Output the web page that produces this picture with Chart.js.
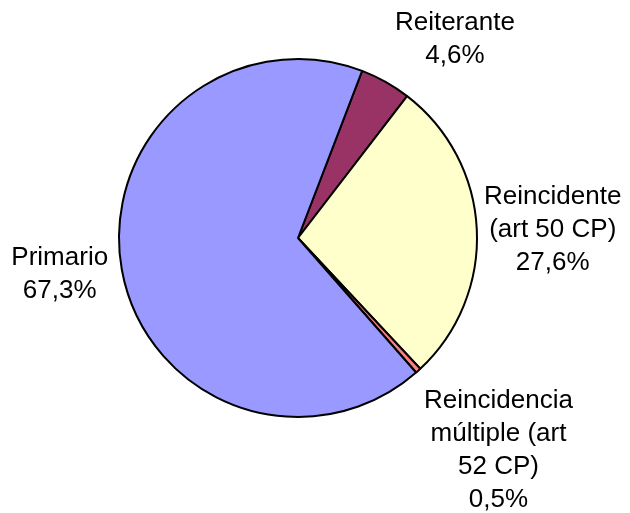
<!DOCTYPE html>
<html>
<head>
<meta charset="utf-8">
<script src="https://cdn.jsdelivr.net/npm/chart.js@4"></script>
<style>
  html, body { margin: 0; padding: 0; background: #fff; }
  #wrap { width: 630px; height: 513px; }
</style>
</head>
<body>
<div id="wrap"><canvas id="pie" width="630" height="513"></canvas></div>
<script>
// ==== Data ====
const categories = [
  ['Reiterante'],
  ['Reincidente', '(art 50 CP)'],
  ['Reincidencia', 'múltiple (art', '52 CP)'],
  ['Primario']
];
const shares = [4.6, 27.6, 0.5, 67.3];
const sliceColors = ['#993366', '#FFFFCC', '#FF8080', '#9999FF'];

// label nudges (px) from a point 60px outside the rim on each slice's mid angle
const labelNudge = [[40, 10], [16, 3], [40, 35], [-3, -6]];

const fmtPct = (v) => v.toFixed(1).replace('.', ',') + '%';

// ==== Outside labels ====
const outsideLabels = {
  id: 'outsideLabels',
  afterDatasetsDraw(chart){
    const ctx = chart.ctx;
    const meta = chart.getDatasetMeta(0);
    ctx.save();
    ctx.fillStyle = '#000';
    ctx.font = '26px "Liberation Sans", Arial, sans-serif';
    ctx.textAlign = 'center';
    ctx.textBaseline = 'middle';
    const lh = 33;
    meta.data.forEach((arc, i) => {
      const {x, y, startAngle, endAngle, outerRadius} = arc.getProps(['x','y','startAngle','endAngle','outerRadius'], true);
      const mid = (startAngle + endAngle) / 2;
      const d = outerRadius + 60;
      const cx = x + Math.cos(mid) * d + labelNudge[i][0];
      const cy = y + Math.sin(mid) * d + labelNudge[i][1];
      const lines = categories[i].concat([fmtPct(shares[i])]);
      const top = cy - (lines.length - 1) * lh / 2;
      lines.forEach((t, k) => ctx.fillText(t, cx, top + k * lh));
    });
    ctx.restore();
  }
};

new Chart(document.getElementById('pie').getContext('2d'), {
  type: 'pie',
  data: {
    labels: categories.map(c => c.join(' ')),
    datasets: [{
      data: shares,
      backgroundColor: sliceColors,
      borderColor: '#000',
      borderWidth: 2,
      borderAlign: 'center'
    }]
  },
  options: {
    responsive: false,
    animation: false,
    rotation: 21,
    layout: { padding: { left: 118, right: 152, top: 58, bottom: 95 } },
    plugins: {
      legend: { display: false },
      tooltip: { enabled: false }
    }
  },
  plugins: [outsideLabels]
});
</script>
</body>
</html>
